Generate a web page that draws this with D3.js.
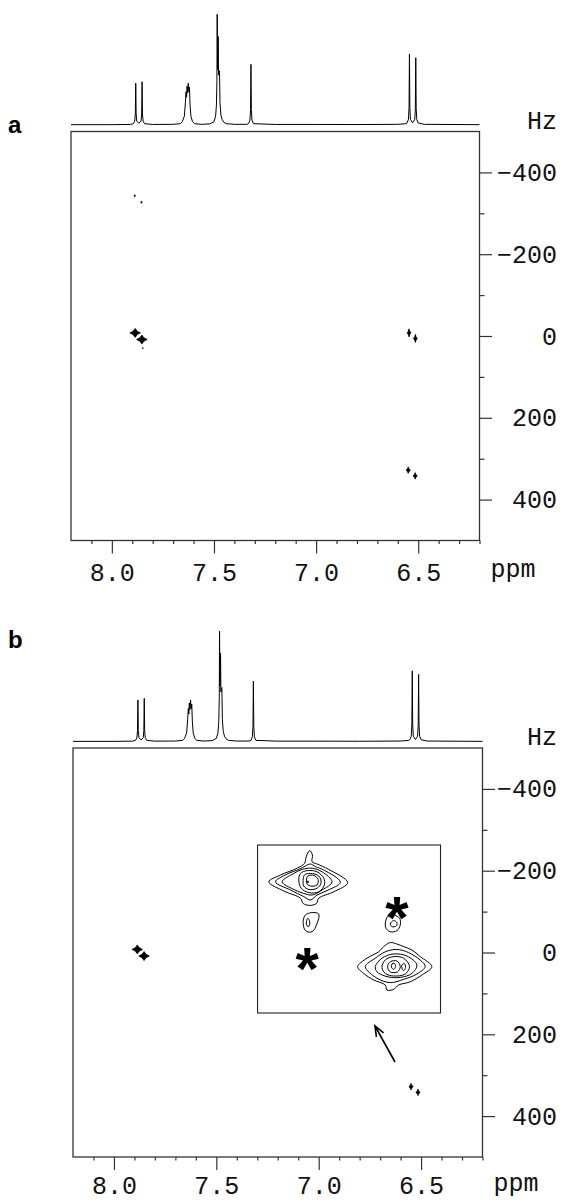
<!DOCTYPE html>
<html><head><meta charset="utf-8">
<script src="https://cdn.jsdelivr.net/npm/d3@7"></script>
<style>html,body{margin:0;padding:0;background:#fff}svg{display:block}</style>
</head><body>
<svg id="c" width="562" height="1202"></svg>
<script>
// ---------------- DATA ----------------
const ppmDomain = [8.2, 6.2];
const hzDomain = [-500, 500];
const ppmMajorTicks = [8.0, 7.5, 7.0, 6.5];
const ppmMajorLabels = ["8.0", "7.5", "7.0", "6.5"];
const ppmMinorTicks = [8.1, 7.9, 7.8, 7.7, 7.6, 7.4, 7.3, 7.2, 7.1, 6.9, 6.8, 6.7, 6.6, 6.4, 6.3, 6.2];
const hzMajorTicks = [-400, -200, 0, 200, 400];
const hzMajorLabels = ["\u2212400", "\u2212200", "0", "200", "400"];
const hzMinorTicks = [-300, -100, 100, 300];

// 1D projection spectrum: [ppm, relative intensity]
const spectrum = [
 [8.20,0.3],[8.00,0.3],[7.91,0.5],
 [7.895,1.2],[7.888,3.5],[7.885,10],[7.883,37.7],[7.881,10],[7.878,3.5],
 [7.868,1.6],
 [7.857,3.5],[7.854,10],[7.852,39.1],[7.850,10],[7.847,3.5],[7.840,1.2],
 [7.80,0.5],[7.70,0.6],[7.665,1.2],
 [7.655,3],[7.645,8],[7.640,20],[7.637,30],[7.634,25],[7.632,35],[7.629,29],[7.626,37.7],[7.623,30],[7.620,34],[7.617,18],[7.613,8],[7.605,3],[7.595,1.2],
 [7.56,0.6],[7.52,1],
 [7.500,3],[7.492,8],[7.488,18],[7.4855,40],[7.4843,100],[7.482,50],[7.4794,80],[7.4775,45],[7.4755,48],[7.473,49],[7.4705,20],[7.466,9],[7.460,5],[7.452,2.5],[7.44,1.2],[7.40,0.6],
 [7.34,0.6],
 [7.331,1.2],[7.324,4.4],[7.321,14],[7.319,54.8],[7.317,14],[7.314,4.4],[7.307,1.2],
 [7.20,0.5],[7.00,0.5],[6.80,0.4],[6.60,0.6],[6.56,1.2],
 [6.555,1.8],[6.548,5],[6.545,16],[6.543,64],[6.541,16],[6.538,5],
 [6.5275,2],
 [6.517,5],[6.514,15],[6.512,60.8],[6.510,15],[6.507,5],[6.500,1.8],
 [6.47,0.6],[6.20,0.3]
];

// 2D cross peaks, panel a: position (ppm, Hz) and half line widths (ppm, Hz)
const peaksA_ppm = [7.886, 7.853, 7.849, 7.888, 7.855, 6.545, 6.514, 6.549, 6.515];
const peaksA_hz  = [-7.6, 8.6, 30, -343, -327, -7.6, 6, 328, 342];
const peaksA_wppm = [0.026, 0.026, 0.003, 0.004, 0.004, 0.010, 0.010, 0.011, 0.011];
const peaksA_whz  = [11, 11, 1.5, 2.5, 2.5, 10, 10, 8, 8];
// panel b
const peaksB_ppm = [7.886, 7.853, 6.549, 6.515];
const peaksB_hz  = [-7.6, 8.6, 328, 342];
const peaksB_wppm = [0.026, 0.026, 0.011, 0.011];
const peaksB_whz  = [11, 11, 8, 8];

// inset (panel b): window in main-plot units and its own expanded axes
const insetWindowPpm = [7.2987, 6.4051];
const insetWindowHz = [-262.8, 147.9];
const insetPpmDomain = [6.555, 6.500];
const insetHzDomain = [-21, 21];
const insetContours = [
 [[6.5516,-11.8],[6.5481,-13.5],[6.5431,-15.2],[6.5409,-16.4],[6.5403,-18.25],[6.5393,-19.6],[6.5385,-18.5],[6.5386,-16.8],[6.5371,-16.25],[6.5336,-14.9],[6.5279,-11.6],[6.5321,-9.3],[6.5366,-7.7],[6.5373,-6.4],[6.5393,-5.9],[6.5413,-6.4],[6.5421,-7.7],[6.5471,-9.5]],
 [[6.5496,-11.8],[6.5461,-13.75],[6.5426,-14.9],[6.5406,-15.75],[6.5391,-16.25],[6.5376,-15.6],[6.5351,-14.75],[6.5301,-11.7],[6.5341,-9.6],[6.5371,-8.5],[6.5391,-7.25],[6.5411,-8.1],[6.5451,-9.75]],
 [[6.5476,-11.8],[6.5441,-13.9],[6.5416,-14.9],[6.5386,-15.2],[6.5356,-14.3],[6.5326,-11.8],[6.5356,-9.75],[6.5386,-8.5],[6.5411,-8.9],[6.5441,-9.9]],
 [[6.5426,-12.25],[6.5421,-13.9],[6.5401,-14.6],[6.5371,-14.3],[6.5351,-12.7],[6.5349,-11],[6.5366,-9.3],[6.5396,-9.1],[6.5419,-10.2]],
 [[6.5413,-12.1],[6.5409,-13.5],[6.5391,-13.9],[6.5366,-13.25],[6.5359,-11.6],[6.5371,-10.2],[6.5396,-9.9],[6.5411,-10.75]],
 [[6.5403,-12.25],[6.5399,-13.25],[6.5381,-13.4],[6.5368,-12.4],[6.5371,-11],[6.5391,-10.75],[6.5401,-11.25]],
 [[6.5400,-11.95],[6.5397,-11.95],[6.5397,-11.65],[6.5400,-11.65]],
 [[6.5413,-1.8],[6.5406,-3.5],[6.5386,-4.1],[6.5366,-3.75],[6.5371,-1.4],[6.5386,0.7],[6.5406,0.4]],
 [[6.5403,-1.8],[6.5399,-2.7],[6.5393,-1.8],[6.5396,-0.6],[6.5401,-0.75]],
 [[6.5166,-1.25],[6.5159,-3.1],[6.5141,-3.5],[6.5123,-2.7],[6.5121,-1],[6.5131,0.4],[6.5151,0.7],[6.5164,-0.2]],
 [[6.5151,-1.25],[6.5141,-2.1],[6.5131,-1.6],[6.5133,-0.75],[6.5146,-0.6]],
 [[6.5249,9.4],[6.5221,7.3],[6.5186,5.7],[6.5171,4.4],[6.5151,3.4],[6.5131,3.75],[6.5111,4.4],[6.5086,5.25],[6.5061,6.9],[6.5026,9.4],[6.5056,11.5],[6.5091,13.2],[6.5126,14],[6.5141,15.1],[6.5161,15.25],[6.5166,14],[6.5201,12.75],[6.5231,11.1]],
 [[6.5226,9.4],[6.5196,7.3],[6.5166,5.7],[6.5131,5.1],[6.5096,5.9],[6.5061,7.75],[6.5046,9.4],[6.5071,11.25],[6.5111,12.6],[6.5151,13.4],[6.5191,12.3]],
 [[6.5196,9.4],[6.5176,7.3],[6.5141,6.25],[6.5101,6.75],[6.5071,9],[6.5086,11.1],[6.5121,12.1],[6.5161,11.9],[6.5191,10.7]],
 [[6.5176,9.6],[6.5166,7.75],[6.5141,6.9],[6.5111,7.3],[6.5093,9.4],[6.5106,11.25],[6.5141,11.75],[6.5166,11.1]],
 [[6.5159,9.4],[6.5151,8.2],[6.5131,8],[6.5121,9.4],[6.5129,10.7],[6.5151,10.75]],
 [[6.5146,8.75],[6.5139,8.6],[6.5135,9.4],[6.5141,10.1],[6.5147,9.6]],
 [[6.5116,9],[6.5109,8.6],[6.5105,9.6],[6.5111,10.4],[6.5116,9.8]]
];
const artifactPpm = [6.5401, 6.5131];
const artifactHz = [6.25, -6.4];
// arrow pointing to the inset (main-plot units: tail, head)
const arrowPpm = [6.6274, 6.725];
const arrowHz = [267.7, 179.7];

// ---------------- DRAWING ----------------
const svg = d3.select("#c");
const MONO = "'Liberation Mono','Courier New',Courier,monospace";
const SANS = "'Liberation Sans',Arial,Helvetica,sans-serif";

const panels = [
  {label:"a", x0:71, x1:479.5, y0:131.5, y1:540.5, base:125, top100:14.3, labelY:133, tickPad:9.5,
   pp:peaksA_ppm, ph:peaksA_hz, pw:peaksA_wppm, phw:peaksA_whz, inset:false},
  {label:"b", x0:73, x1:482.5, y0:748, y1:1157, base:741.7, top100:631, labelY:648, tickPad:6.5,
   pp:peaksB_ppm, ph:peaksB_hz, pw:peaksB_wppm, phw:peaksB_whz, inset:true}
];

function starPath(cx, cy, w, h) {
  const k = 0.38;
  const p = d3.path();
  p.moveTo(cx, cy - h);
  p.lineTo(cx + k*w, cy - k*h);
  p.lineTo(cx + w, cy);
  p.lineTo(cx + k*w, cy + k*h);
  p.lineTo(cx, cy + h);
  p.lineTo(cx - k*w, cy + k*h);
  p.lineTo(cx - w, cy);
  p.lineTo(cx - k*w, cy - k*h);
  p.closePath();
  return p.toString();
}

panels.forEach(P => {
  const g = svg.append("g");
  const x = d3.scaleLinear().domain(ppmDomain).range([P.x0, P.x1]);
  const y = d3.scaleLinear().domain(hzDomain).range([P.y0, P.y1]);
  const ys = d3.scaleLinear().domain([0, 100]).range([P.base, P.top100]);

  // spectrum on top
  g.append("path").datum(spectrum)
    .attr("d", d3.line().x(d => x(d[0])).y(d => ys(d[1])))
    .attr("fill", "none").attr("stroke", "#000").attr("stroke-width", 1)
    .attr("stroke-linejoin", "round");

  // frame
  g.append("rect").attr("x", P.x0).attr("y", P.y0)
    .attr("width", P.x1 - P.x0).attr("height", P.y1 - P.y0)
    .attr("fill", "none").attr("stroke", "#333").attr("stroke-width", 1.3);

  // bottom axis
  const bMinor = g.append("g").attr("transform", `translate(0,${P.y1})`)
    .call(d3.axisBottom(x).tickValues(ppmMinorTicks).tickSize(3.5).tickFormat(""));
  const bMajor = g.append("g").attr("transform", `translate(0,${P.y1})`)
    .call(d3.axisBottom(x).tickValues(ppmMajorTicks).tickSize(13).tickPadding(P.tickPad)
      .tickFormat((d, i) => ppmMajorLabels[i]));
  // right axis
  const rMinor = g.append("g").attr("transform", `translate(${P.x1},0)`)
    .call(d3.axisRight(y).tickValues(hzMinorTicks).tickSize(5).tickFormat(""));
  const rMajor = g.append("g").attr("transform", `translate(${P.x1},0)`)
    .call(d3.axisRight(y).tickValues(hzMajorTicks).tickSize(12.5)
      .tickFormat((d, i) => hzMajorLabels[i]));
  [bMinor, bMajor, rMinor, rMajor].forEach(a => {
    a.select(".domain").remove();
    a.attr("color", "#333").attr("font-family", MONO).attr("font-size", 25);
    a.selectAll(".tick line").attr("stroke-width", 1.2);
    a.selectAll(".tick text").attr("fill", "#111");
  });
  rMajor.selectAll(".tick text").attr("text-anchor", "end").attr("x", 557 - P.x1).attr("dy", "0.32em");

  g.append("text").attr("x", 557).attr("y", P.y0 - 3).attr("text-anchor", "end")
    .attr("font-family", MONO).attr("font-size", 25).attr("fill", "#111").text("Hz");
  g.append("text").attr("x", P.x1 + 11).attr("y", P.y1 + 27.25 + P.tickPad)
    .attr("font-family", MONO).attr("font-size", 25).attr("fill", "#111").text("ppm");

  // panel letter
  g.append("text").attr("x", 8).attr("y", P.labelY)
    .attr("font-family", SANS).attr("font-weight", "bold").attr("font-size", 24).text(P.label);

  // cross peaks
  g.selectAll("path.pk").data(P.pp).enter().append("path").attr("class", "pk")
    .attr("d", (d, i) => {
      const cx = x(P.pp[i]), cy = y(P.ph[i]);
      const w = Math.abs(x(P.pp[i] - P.pw[i]) - cx);
      const h = Math.abs(y(P.ph[i] + P.phw[i]) - cy);
      return starPath(cx, cy, w, h);
    })
    .attr("fill", "#000").attr("stroke", "#000").attr("stroke-width", 0.7);

  if (P.inset) {
    const rx0 = x(insetWindowPpm[0]), rx1 = x(insetWindowPpm[1]);
    const ry0 = y(insetWindowHz[0]), ry1 = y(insetWindowHz[1]);
    g.append("rect").attr("x", rx0).attr("y", ry0).attr("width", rx1 - rx0).attr("height", ry1 - ry0)
      .attr("fill", "#fff").attr("stroke", "#222").attr("stroke-width", 1.1);
    const ix = d3.scaleLinear().domain(insetPpmDomain).range([rx0, rx1]);
    const iy = d3.scaleLinear().domain(insetHzDomain).range([ry0, ry1]);
    const ring = d3.line().x(d => ix(d[0])).y(d => iy(d[1])).curve(d3.curveCatmullRomClosed.alpha(0.5));
    g.selectAll("path.ct").data(insetContours).enter().append("path").attr("class", "ct")
      .attr("d", ring).attr("fill", "none").attr("stroke", "#000").attr("stroke-width", 1);
    const fs = 60;
    g.selectAll("text.ast").data(artifactPpm).enter().append("text").attr("class", "ast")
      .attr("x", (d, i) => ix(artifactPpm[i]))
      .attr("y", (d, i) => iy(artifactHz[i]) + 0.58 * fs)
      .attr("text-anchor", "middle").attr("font-family", SANS).attr("font-weight", "bold")
      .attr("font-size", fs).text("*");
    // arrow
    const tx = x(arrowPpm[0]), ty = y(arrowHz[0]), hx = x(arrowPpm[1]), hy = y(arrowHz[1]);
    g.append("line").attr("x1", tx).attr("y1", ty).attr("x2", hx).attr("y2", hy)
      .attr("stroke", "#000").attr("stroke-width", 1.6);
    const ang = Math.atan2(hy - ty, hx - tx), L = 11, sp = 0.38;
    const hp = d3.path();
    hp.moveTo(hx - L * Math.cos(ang - sp), hy - L * Math.sin(ang - sp));
    hp.lineTo(hx, hy);
    hp.lineTo(hx - L * Math.cos(ang + sp), hy - L * Math.sin(ang + sp));
    g.append("path").attr("d", hp.toString()).attr("fill", "none").attr("stroke", "#000").attr("stroke-width", 1.6);
  }
});
</script>
</body></html>
